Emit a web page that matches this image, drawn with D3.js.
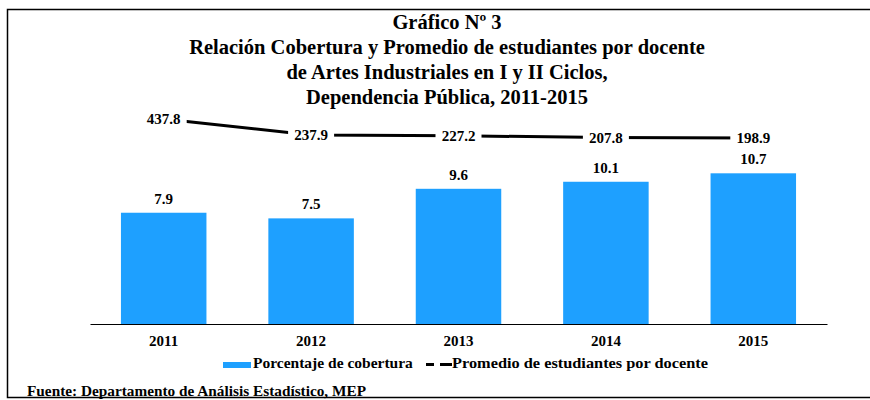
<!DOCTYPE html>
<html>
<head>
<meta charset="utf-8">
<script src="https://cdn.jsdelivr.net/npm/d3@7"></script>
<style>
  body { margin: 0; background: #fff; }
  text { font-family: "Liberation Serif", "Times New Roman", serif; font-weight: bold; fill: #000; }
</style>
</head>
<body>
<svg id="chart" width="870" height="400"></svg>
<script>
var width = 870, height = 400

var years = ["2011", "2012", "2013", "2014", "2015"]
var cobertura = [7.9, 7.5, 9.6, 10.1, 10.7]
var promedio = [437.8, 237.9, 227.2, 207.8, 198.9]
var titleLines = [
  "Gráfico Nº 3",
  "Relación Cobertura y Promedio de estudiantes por docente",
  "de Artes Industriales en I y II Ciclos,",
  "Dependencia Pública, 2011-2015"
]
var legendNames = ["Porcentaje de cobertura", "Promedio de estudiantes por docente"]
var fuente = "Fuente: Departamento de Análisis Estadístico, MEP"

var svg = d3.select("#chart")
  .attr("font-family", "'Liberation Serif', 'Times New Roman', serif")
  .attr("font-weight", "bold")

// frame (no right side visible)
svg.append("path")
  .attr("d", "M870,9.5 H7.5 V397.5 H870")
  .attr("fill", "none")
  .attr("stroke", "#000")
  .attr("stroke-width", 1.5)

// title
svg.selectAll(".title")
  .data(titleLines)
  .enter().append("text")
  .attr("class", "title")
  .attr("x", 447)
  .attr("y", function(d, i) { return 29 + i * 25 })
  .attr("text-anchor", "middle")
  .style("font-size", "20.5px")
  .text(function(d) { return d })

var x = d3.scaleBand()
  .domain(years)
  .range([90, 827])
  .paddingInner(0.42)
  .paddingOuter(0.21)

var y = d3.scaleLinear()
  .domain([0, 12])
  .range([324, 155])

var y2 = d3.scaleLinear()
  .domain([0, 437.8])
  .range([154, 119])

// bars
svg.selectAll(".bar")
  .data(cobertura)
  .enter().append("rect")
  .attr("class", "bar")
  .attr("x", function(d, i) { return x(years[i]) })
  .attr("y", function(d) { return y(d) })
  .attr("width", x.bandwidth())
  .attr("height", function(d) { return y(0) - y(d) })
  .attr("fill", "#1ea0ff")

svg.selectAll(".barlabel")
  .data(cobertura)
  .enter().append("text")
  .attr("class", "barlabel")
  .attr("x", function(d, i) { return x(years[i]) + x.bandwidth() / 2 })
  .attr("y", function(d) { return y(d) - 9 })
  .attr("text-anchor", "middle")
  .style("font-size", "15px")
  .text(function(d) { return d.toFixed(1) })

// x axis
var xAxis = svg.append("g")
  .attr("transform", "translate(0," + y(0) + ")")
  .call(d3.axisBottom(x).tickSize(0).tickPadding(11))
  .attr("font-family", "'Liberation Serif', 'Times New Roman', serif")
  .attr("font-size", 15)
  .attr("font-weight", "bold")
xAxis.select(".domain").attr("stroke", "#000").attr("stroke-width", 1.2)
xAxis.selectAll("text").attr("fill", "#000")

// line
var line = d3.line()
  .x(function(d, i) { return x(years[i]) + x.bandwidth() / 2 })
  .y(function(d) { return y2(d) })

svg.append("path")
  .datum(promedio)
  .attr("d", line)
  .attr("fill", "none")
  .attr("stroke", "#000")
  .attr("stroke-width", 3)

var lbl = svg.selectAll(".linelabel")
  .data(promedio)
  .enter().append("g")
  .attr("class", "linelabel")
  .attr("transform", function(d, i) {
    return "translate(" + (x(years[i]) + x.bandwidth() / 2) + "," + y2(d) + ")"
  })
lbl.append("rect")
  .attr("x", -23).attr("y", -10)
  .attr("width", 46).attr("height", 20)
  .attr("fill", "#fff")
lbl.append("text")
  .attr("text-anchor", "middle")
  .attr("dy", "0.35em")
  .style("font-size", "15px")
  .text(function(d) { return d.toFixed(1) })

// legend
svg.append("rect")
  .attr("x", 223).attr("y", 362)
  .attr("width", 28).attr("height", 6)
  .attr("fill", "#1ea0ff")
svg.append("text")
  .attr("x", 253).attr("y", 368)
  .style("font-size", "15.5px")
  .text(legendNames[0])
svg.append("line")
  .attr("x1", 426).attr("x2", 434).attr("y1", 364.5).attr("y2", 364.5)
  .attr("stroke", "#000").attr("stroke-width", 3)
svg.append("line")
  .attr("x1", 440).attr("x2", 452).attr("y1", 364.5).attr("y2", 364.5)
  .attr("stroke", "#000").attr("stroke-width", 3)
svg.append("text")
  .attr("x", 452).attr("y", 368)
  .style("font-size", "15.5px")
  .attr("textLength", 256)
  .attr("lengthAdjust", "spacingAndGlyphs")
  .text(legendNames[1])

// source
svg.append("text")
  .attr("x", 27).attr("y", 396)
  .style("font-size", "15.4px")
  .attr("textLength", 339)
  .attr("lengthAdjust", "spacingAndGlyphs")
  .text(fuente)
</script>
</body>
</html>
